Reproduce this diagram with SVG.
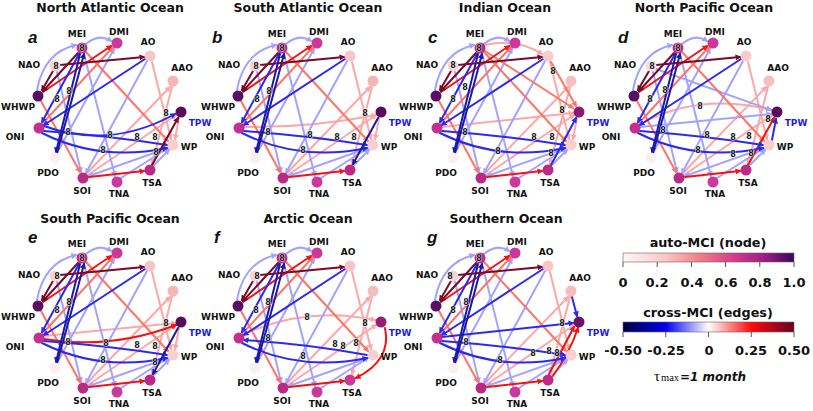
<svg xmlns="http://www.w3.org/2000/svg" width="813" height="411" viewBox="0 0 813 411">
<style>
.e{fill:none;stroke-width:2;stroke-linecap:round}
.ls{stroke:#ffa6a6;marker-end:url(#m-ls)}
.lb{stroke:#a3a3ff;marker-end:url(#m-lb)}
.sa{stroke:#ff7468;marker-end:url(#m-sa)}
.rd{stroke:#f01414;marker-end:url(#m-rd)}
.bl{stroke:#2a2af2;marker-end:url(#m-bl)}
.nv{stroke:#1a1aa8;marker-end:url(#m-nv)}
.mr{stroke:#7a0a2a;marker-end:url(#m-mr)}
.nl{font:bold 9px "DejaVu Sans",sans-serif;fill:#111;text-anchor:middle}
.tp{fill:#1a1aee}
.lg{font:bold 8px "DejaVu Sans",sans-serif;fill:#1a1a1a;text-anchor:middle;stroke:#fff;stroke-width:1;stroke-opacity:0.8;paint-order:stroke}
.tt{font:bold 12.5px "DejaVu Sans",sans-serif;fill:#111;text-anchor:middle}
.pl{font:italic bold 17px "Liberation Sans",sans-serif;fill:#111}
.cb{font:bold 12.8px "DejaVu Sans",sans-serif;fill:#111;text-anchor:middle}
.tk{font:bold 13px "DejaVu Sans",sans-serif;fill:#111;text-anchor:middle}
.tick{stroke:#555;stroke-width:1}
</style>
<defs>
<marker id="m-ls" viewBox="0 0 8 8" refX="6" refY="4" markerWidth="6" markerHeight="6" markerUnits="userSpaceOnUse" orient="auto"><path d="M0,0 L8,4 L0,8 z" fill="#ffa6a6"/></marker>
<marker id="m-lb" viewBox="0 0 8 8" refX="6" refY="4" markerWidth="6" markerHeight="6" markerUnits="userSpaceOnUse" orient="auto"><path d="M0,0 L8,4 L0,8 z" fill="#a3a3ff"/></marker>
<marker id="m-sa" viewBox="0 0 8 8" refX="6" refY="4" markerWidth="6" markerHeight="6" markerUnits="userSpaceOnUse" orient="auto"><path d="M0,0 L8,4 L0,8 z" fill="#ff7468"/></marker>
<marker id="m-rd" viewBox="0 0 8 8" refX="6" refY="4" markerWidth="6" markerHeight="6" markerUnits="userSpaceOnUse" orient="auto"><path d="M0,0 L8,4 L0,8 z" fill="#f01414"/></marker>
<marker id="m-bl" viewBox="0 0 8 8" refX="6" refY="4" markerWidth="6" markerHeight="6" markerUnits="userSpaceOnUse" orient="auto"><path d="M0,0 L8,4 L0,8 z" fill="#2a2af2"/></marker>
<marker id="m-nv" viewBox="0 0 8 8" refX="6" refY="4" markerWidth="6" markerHeight="6" markerUnits="userSpaceOnUse" orient="auto"><path d="M0,0 L8,4 L0,8 z" fill="#1a1aa8"/></marker>
<marker id="m-mr" viewBox="0 0 8 8" refX="6" refY="4" markerWidth="6" markerHeight="6" markerUnits="userSpaceOnUse" orient="auto"><path d="M0,0 L8,4 L0,8 z" fill="#7a0a2a"/></marker>
<linearGradient id="g-auto" x1="0" x2="1" y1="0" y2="0">
<stop offset="0" stop-color="#fff8f8"/><stop offset="0.25" stop-color="#f9c6c6"/><stop offset="0.45" stop-color="#f07e86"/><stop offset="0.65" stop-color="#d33c8c"/><stop offset="0.82" stop-color="#a01e86"/><stop offset="1" stop-color="#3a0858"/>
</linearGradient>
<linearGradient id="g-cross" x1="0" x2="1" y1="0" y2="0">
<stop offset="0" stop-color="#000040"/><stop offset="0.25" stop-color="#0000f0"/><stop offset="0.5" stop-color="#ffffff"/><stop offset="0.75" stop-color="#ff0a0a"/><stop offset="1" stop-color="#660022"/>
</linearGradient>
</defs>
<rect width="813" height="411" fill="#fff"/>

<!-- Panel a -->
<g id="panel-a">
<text class="tt" x="110" y="12">North Atlantic Ocean</text>
<text class="pl" x="28" y="43">a</text>
<g id="a-connectors">
<path class="e ls" d="M88,175 L176,115"/><path class="e ls" d="M87,173 L170,87"/><path class="e ls" d="M172,87 L152,164"/><path class="e ls" d="M179,118 L175,139"/><path class="e ls" d="M152,62 L171,139"/>
<path class="e lb" d="M86,44 Q99,33 111,41"/><path class="e lb" d="M37,90 Q44,52 76,45"/><path class="e lb" d="M147,61 L86,173"/><path class="e lb" d="M84,54 L115,176"/><path class="e lb" d="M57,153 L114,49"/><path class="e lb" d="M57,72 L81,172"/><path class="e lb" d="M121,178 L168,148"/><path class="e lb" d="M154,165 L169,150"/><path class="e lb" d="M168,148 L89,176"/>
<path class="e sa" d="M86,52 L168,141"/><path class="e sa" d="M41,101 L80,172"/><path class="e sa" d="M43,123 L113,47"/>
<path class="e rd" d="M43,92 L111,46"/><path class="e rd" d="M89,177 L144,171"/>
<path class="e bl" d="M145,59 L44,125"/><path class="e bl" d="M44,126 Q110,150 175,114"/><path class="e bl" d="M44,131 Q110,136 167,145"/><path class="e bl" d="M42,133 Q100,162 167,148"/><path class="e bl" d="M79,54 L42,122"/>
<path class="e nv" d="M80,54 L56,152"/><path class="e nv" d="M57,153 Q72,100 84,54"/>
<path class="e mr" d="M60,65 L144,57"/><path class="e mr" d="M78,53 L43,91"/><path class="e mr" d="M53,71 L42,90"/><path class="e mr" d="M152,165 L178,118"/>
</g>
<g id="a-MEI"><circle cx="82" cy="48" r="5.5" fill="#c12b8b"/><text class="nl" x="77" y="37">MEI</text></g>
<g id="a-DMI"><circle cx="117" cy="43" r="5.5" fill="#cb379b"/><text class="nl" x="119" y="35">DMI</text></g>
<g id="a-AO"><circle cx="150" cy="56" r="5.5" fill="#f8c6c6"/><text class="nl" x="148" y="45">AO</text></g>
<g id="a-AAO"><circle cx="173" cy="81" r="5.5" fill="#f6b6b6"/><text class="nl" x="182" y="71">AAO</text></g>
<g id="a-TPW"><circle cx="181" cy="112" r="5.5" fill="#5a0c5c"/><text class="nl tp" x="200" y="126">TPW</text></g>
<g id="a-WP"><circle cx="173" cy="145" r="5.5" fill="#f9cfcf"/><text class="nl" x="189" y="150">WP</text></g>
<g id="a-TSA"><circle cx="150" cy="170" r="5.5" fill="#bd2984"/><text class="nl" x="152" y="186">TSA</text></g>
<g id="a-TNA"><circle cx="117" cy="182" r="5.5" fill="#cd389d"/><text class="nl" x="119" y="197">TNA</text></g>
<g id="a-SOI"><circle cx="83" cy="178" r="5.5" fill="#b92a84"/><text class="nl" x="82" y="194">SOI</text></g>
<g id="a-PDO"><circle cx="55" cy="158" r="5.5" fill="#fcefef"/><text class="nl" x="48" y="176">PDO</text></g>
<g id="a-ONI"><circle cx="39" cy="128" r="5.5" fill="#c3308f"/><text class="nl" x="15" y="140">ONI</text></g>
<g id="a-WHWP"><circle cx="38" cy="96" r="5.5" fill="#581064"/><text class="nl" x="18" y="110">WHWP</text></g>
<g id="a-NAO"><circle cx="55" cy="66" r="5.5" fill="#f9d2d2"/><text class="nl" x="29" y="68">NAO</text></g>
<g class="lg"><text x="82" y="51">8</text><text x="56" y="69">8</text><text x="69" y="94">8</text><text x="57" y="102">8</text><text x="68" y="135">8</text><text x="110" y="138">8</text><text x="137" y="140">8</text><text x="155" y="140">8</text><text x="103" y="153">8</text><text x="156" y="155">8</text><text x="166" y="116">8</text></g>
</g>

<!-- Panel b -->
<g id="panel-b" transform="translate(200,0)">
<text class="tt" x="108" y="12">South Atlantic Ocean</text>
<text class="pl" x="12" y="43">b</text>
<g id="b-connectors">
<path class="e ls" d="M88,175 L176,115"/><path class="e ls" d="M87,173 L170,87"/><path class="e ls" d="M172,87 L152,164"/><path class="e ls" d="M179,118 L175,139"/><path class="e ls" d="M152,62 L171,139"/><path class="e ls" d="M44,127 Q110,128 176,115"/>
<path class="e lb" d="M86,44 Q99,33 111,41"/><path class="e lb" d="M37,90 Q44,52 76,45"/><path class="e lb" d="M147,61 L86,173"/><path class="e lb" d="M84,54 L115,176"/><path class="e lb" d="M57,153 L114,49"/><path class="e lb" d="M57,72 L81,172"/><path class="e lb" d="M121,178 L168,148"/><path class="e lb" d="M154,165 L169,150"/><path class="e lb" d="M168,148 L89,176"/>
<path class="e sa" d="M86,52 L168,141"/><path class="e sa" d="M41,101 L80,172"/><path class="e sa" d="M43,123 L113,47"/>
<path class="e rd" d="M43,92 L111,46"/><path class="e rd" d="M89,177 L144,171"/>
<path class="e bl" d="M145,59 L44,125"/><path class="e bl" d="M44,131 Q110,136 167,145"/><path class="e bl" d="M42,133 Q100,162 167,148"/><path class="e bl" d="M79,54 L42,122"/>
<path class="e nv" d="M80,54 L56,152"/><path class="e nv" d="M57,153 Q72,100 84,54"/><path class="e nv" d="M178,118 L153,164"/>
<path class="e mr" d="M60,65 L144,57"/><path class="e mr" d="M78,53 L43,91"/><path class="e mr" d="M53,71 L42,90"/>
</g>
<g id="b-MEI"><circle cx="82" cy="48" r="5.5" fill="#c12b8b"/><text class="nl" x="77" y="37">MEI</text></g>
<g id="b-DMI"><circle cx="117" cy="43" r="5.5" fill="#cb379b"/><text class="nl" x="119" y="35">DMI</text></g>
<g id="b-AO"><circle cx="150" cy="56" r="5.5" fill="#f8c6c6"/><text class="nl" x="148" y="45">AO</text></g>
<g id="b-AAO"><circle cx="173" cy="81" r="5.5" fill="#f6b6b6"/><text class="nl" x="182" y="71">AAO</text></g>
<g id="b-TPW"><circle cx="181" cy="112" r="5.5" fill="#5a0c5c"/><text class="nl tp" x="200" y="126">TPW</text></g>
<g id="b-WP"><circle cx="173" cy="145" r="5.5" fill="#f9cfcf"/><text class="nl" x="189" y="150">WP</text></g>
<g id="b-TSA"><circle cx="150" cy="170" r="5.5" fill="#bd2984"/><text class="nl" x="152" y="186">TSA</text></g>
<g id="b-TNA"><circle cx="117" cy="182" r="5.5" fill="#cd389d"/><text class="nl" x="119" y="197">TNA</text></g>
<g id="b-SOI"><circle cx="83" cy="178" r="5.5" fill="#b92a84"/><text class="nl" x="82" y="194">SOI</text></g>
<g id="b-PDO"><circle cx="55" cy="158" r="5.5" fill="#fcefef"/><text class="nl" x="48" y="176">PDO</text></g>
<g id="b-ONI"><circle cx="39" cy="128" r="5.5" fill="#c3308f"/><text class="nl" x="15" y="140">ONI</text></g>
<g id="b-WHWP"><circle cx="38" cy="96" r="5.5" fill="#581064"/><text class="nl" x="18" y="110">WHWP</text></g>
<g id="b-NAO"><circle cx="55" cy="66" r="5.5" fill="#f9d2d2"/><text class="nl" x="29" y="68">NAO</text></g>
<g class="lg"><text x="82" y="51">8</text><text x="56" y="69">8</text><text x="69" y="94">8</text><text x="57" y="102">8</text><text x="68" y="135">8</text><text x="110" y="138">8</text><text x="137" y="140">8</text><text x="154" y="140">8</text><text x="103" y="153">8</text><text x="165" y="116">8</text></g>
</g>

<!-- Panel c -->
<g id="panel-c" transform="translate(398,0)">
<text class="tt" x="107" y="12">Indian Ocean</text>
<text class="pl" x="30" y="43">c</text>
<g id="c-connectors">
<path class="e ls" d="M88,175 L176,115"/><path class="e ls" d="M87,173 L170,87"/><path class="e ls" d="M172,87 L152,164"/><path class="e ls" d="M179,118 L175,139"/><path class="e ls" d="M152,62 L171,139"/><path class="e ls" d="M44,127 L175,113"/><path class="e ls" d="M87,45 Q120,38 144,54"/>
<path class="e lb" d="M86,44 Q99,33 111,41"/><path class="e lb" d="M37,90 Q44,52 76,45"/><path class="e lb" d="M147,61 L86,173"/><path class="e lb" d="M84,54 L115,176"/><path class="e lb" d="M57,153 L114,49"/><path class="e lb" d="M57,72 L81,172"/><path class="e lb" d="M121,178 L168,148"/><path class="e lb" d="M154,165 L169,150"/><path class="e lb" d="M168,148 L89,176"/>
<path class="e sa" d="M86,52 L168,141"/><path class="e sa" d="M41,101 L80,172"/><path class="e sa" d="M43,123 L113,47"/><path class="e sa" d="M153,62 L178,106"/><path class="e sa" d="M87,51 L175,108"/>
<path class="e rd" d="M43,92 L111,46"/><path class="e rd" d="M89,177 L144,171"/>
<path class="e bl" d="M145,59 L44,125"/><path class="e bl" d="M44,131 Q110,136 167,145"/><path class="e bl" d="M42,133 Q100,162 167,148"/><path class="e bl" d="M79,54 L42,122"/><path class="e bl" d="M153,165 L178,118"/>
<path class="e nv" d="M80,54 L56,152"/><path class="e nv" d="M57,153 Q72,100 84,54"/>
<path class="e mr" d="M60,65 L144,57"/><path class="e mr" d="M78,53 L43,91"/><path class="e mr" d="M53,71 L42,90"/>
</g>
<g id="c-MEI"><circle cx="82" cy="48" r="5.5" fill="#b82888"/><text class="nl" x="77" y="37">MEI</text></g>
<g id="c-DMI"><circle cx="117" cy="43" r="5.5" fill="#cb379b"/><text class="nl" x="119" y="35">DMI</text></g>
<g id="c-AO"><circle cx="150" cy="56" r="5.5" fill="#f8cccc"/><text class="nl" x="148" y="45">AO</text></g>
<g id="c-AAO"><circle cx="173" cy="81" r="5.5" fill="#f7c0c0"/><text class="nl" x="182" y="71">AAO</text></g>
<g id="c-TPW"><circle cx="181" cy="112" r="5.5" fill="#8a1a72"/><text class="nl tp" x="200" y="126">TPW</text></g>
<g id="c-WP"><circle cx="173" cy="145" r="5.5" fill="#f9cfcf"/><text class="nl" x="189" y="150">WP</text></g>
<g id="c-TSA"><circle cx="150" cy="170" r="5.5" fill="#bd2984"/><text class="nl" x="152" y="186">TSA</text></g>
<g id="c-TNA"><circle cx="117" cy="182" r="5.5" fill="#cd389d"/><text class="nl" x="119" y="197">TNA</text></g>
<g id="c-SOI"><circle cx="83" cy="178" r="5.5" fill="#b92a84"/><text class="nl" x="82" y="194">SOI</text></g>
<g id="c-PDO"><circle cx="55" cy="158" r="5.5" fill="#fcefef"/><text class="nl" x="48" y="176">PDO</text></g>
<g id="c-ONI"><circle cx="39" cy="128" r="5.5" fill="#c3308f"/><text class="nl" x="15" y="140">ONI</text></g>
<g id="c-WHWP"><circle cx="38" cy="96" r="5.5" fill="#581064"/><text class="nl" x="18" y="110">WHWP</text></g>
<g id="c-NAO"><circle cx="55" cy="66" r="5.5" fill="#f9d2d2"/><text class="nl" x="29" y="68">NAO</text></g>
<g class="lg"><text x="81" y="51">8</text><text x="55" y="68">8</text><text x="67" y="90">8</text><text x="55" y="102">8</text><text x="67" y="135">8</text><text x="136" y="140">8</text><text x="154" y="140">8</text><text x="100" y="154">8</text><text x="153" y="156">8</text><text x="155" y="74">8</text><text x="164" y="113">8</text></g>
</g>

<!-- Panel d -->
<g id="panel-d" transform="translate(596,0)">
<text class="tt" x="108" y="12">North Pacific Ocean</text>
<text class="pl" x="22" y="43">d</text>
<g id="d-connectors">
<path class="e ls" d="M88,175 L176,115"/><path class="e ls" d="M87,173 L170,87"/><path class="e ls" d="M172,87 L152,164"/><path class="e ls" d="M152,62 L171,139"/><path class="e ls" d="M44,124 Q104,92 175,110"/>
<path class="e lb" d="M86,44 Q99,33 111,41"/><path class="e lb" d="M37,90 Q44,52 76,45"/><path class="e lb" d="M147,61 L86,173"/><path class="e lb" d="M84,54 L115,176"/><path class="e lb" d="M57,153 L114,49"/><path class="e lb" d="M57,72 L81,172"/><path class="e lb" d="M121,178 L168,148"/><path class="e lb" d="M154,165 L169,150"/><path class="e lb" d="M168,148 L89,176"/><path class="e lb" d="M60,69 L175,110"/><path class="e lb" d="M44,127 L175,114"/>
<path class="e sa" d="M86,52 L168,141"/><path class="e sa" d="M41,101 L80,172"/><path class="e sa" d="M43,123 L113,47"/>
<path class="e rd" d="M43,92 L111,46"/><path class="e rd" d="M89,177 L144,171"/><path class="e rd" d="M152,165 L178,118"/>
<path class="e bl" d="M145,59 L44,125"/><path class="e bl" d="M44,131 Q110,136 167,145"/><path class="e bl" d="M42,133 Q100,162 167,148"/><path class="e bl" d="M79,54 L42,122"/><path class="e bl" d="M176,140 L180,119"/>
<path class="e nv" d="M80,54 L56,152"/><path class="e nv" d="M57,153 Q72,100 84,54"/>
<path class="e mr" d="M60,65 L144,57"/><path class="e mr" d="M78,53 L43,91"/><path class="e mr" d="M53,71 L42,90"/>
</g>
<g id="d-MEI"><circle cx="82" cy="48" r="5.5" fill="#c12b8b"/><text class="nl" x="77" y="37">MEI</text></g>
<g id="d-DMI"><circle cx="117" cy="43" r="5.5" fill="#cb379b"/><text class="nl" x="119" y="35">DMI</text></g>
<g id="d-AO"><circle cx="150" cy="56" r="5.5" fill="#f8cccc"/><text class="nl" x="148" y="45">AO</text></g>
<g id="d-AAO"><circle cx="173" cy="81" r="5.5" fill="#f7c0c0"/><text class="nl" x="182" y="71">AAO</text></g>
<g id="d-TPW"><circle cx="181" cy="112" r="5.5" fill="#5a0c5c"/><text class="nl tp" x="200" y="126">TPW</text></g>
<g id="d-WP"><circle cx="173" cy="145" r="5.5" fill="#f9cfcf"/><text class="nl" x="189" y="150">WP</text></g>
<g id="d-TSA"><circle cx="150" cy="170" r="5.5" fill="#bd2984"/><text class="nl" x="152" y="186">TSA</text></g>
<g id="d-TNA"><circle cx="117" cy="182" r="5.5" fill="#cd389d"/><text class="nl" x="119" y="197">TNA</text></g>
<g id="d-SOI"><circle cx="83" cy="178" r="5.5" fill="#b92a84"/><text class="nl" x="82" y="194">SOI</text></g>
<g id="d-PDO"><circle cx="55" cy="158" r="5.5" fill="#fcefef"/><text class="nl" x="48" y="176">PDO</text></g>
<g id="d-ONI"><circle cx="39" cy="128" r="5.5" fill="#c3308f"/><text class="nl" x="15" y="140">ONI</text></g>
<g id="d-WHWP"><circle cx="38" cy="96" r="5.5" fill="#581064"/><text class="nl" x="18" y="110">WHWP</text></g>
<g id="d-NAO"><circle cx="55" cy="66" r="5.5" fill="#fadada"/><text class="nl" x="29" y="68">NAO</text></g>
<g class="lg"><text x="82" y="51">8</text><text x="56" y="69">8</text><text x="69" y="93">8</text><text x="54" y="102">8</text><text x="67" y="133">8</text><text x="104" y="109">8</text><text x="111" y="138">8</text><text x="137" y="140">8</text><text x="153" y="139">8</text><text x="102" y="153">8</text><text x="137" y="157">8</text><text x="155" y="156">8</text><text x="172" y="122">8</text></g>
</g>

<!-- Panel e -->
<g id="panel-e" transform="translate(0,210)">
<text class="tt" x="110" y="13">South Pacific Ocean</text>
<text class="pl" x="28" y="33">e</text>
<g id="e-connectors">
<path class="e ls" d="M88,175 L176,115"/><path class="e ls" d="M87,173 L170,87"/><path class="e ls" d="M172,87 L152,164"/><path class="e ls" d="M179,118 L175,139"/><path class="e ls" d="M152,62 L171,139"/><path class="e ls" d="M44,126 L176,113"/>
<path class="e lb" d="M86,44 Q99,33 111,41"/><path class="e lb" d="M37,90 Q44,52 76,45"/><path class="e lb" d="M147,61 L86,173"/><path class="e lb" d="M84,54 L115,176"/><path class="e lb" d="M57,153 L114,49"/><path class="e lb" d="M57,72 L81,172"/><path class="e lb" d="M121,178 L168,148"/><path class="e lb" d="M154,165 L169,150"/><path class="e lb" d="M168,148 L89,176"/>
<path class="e sa" d="M86,52 L168,141"/><path class="e sa" d="M41,101 L80,172"/><path class="e sa" d="M43,123 L113,47"/>
<path class="e rd" d="M43,92 L111,46"/><path class="e rd" d="M89,177 L144,171"/><path class="e rd" d="M44,129 Q110,140 176,115"/>
<path class="e bl" d="M145,59 L44,125"/><path class="e bl" d="M44,131 Q110,136 167,145"/><path class="e bl" d="M42,133 Q100,162 167,148"/><path class="e bl" d="M79,54 L42,122"/>
<path class="e nv" d="M80,54 L56,152"/><path class="e nv" d="M57,153 Q72,100 84,54"/><path class="e nv" d="M178,118 L153,164"/>
<path class="e mr" d="M60,65 L144,57"/><path class="e mr" d="M78,53 L43,91"/><path class="e mr" d="M53,71 L42,90"/>
</g>
<g id="e-MEI"><circle cx="82" cy="48" r="5.5" fill="#c12b8b"/><text class="nl" x="77" y="37">MEI</text></g>
<g id="e-DMI"><circle cx="117" cy="43" r="5.5" fill="#cb379b"/><text class="nl" x="119" y="35">DMI</text></g>
<g id="e-AO"><circle cx="150" cy="56" r="5.5" fill="#f8c6c6"/><text class="nl" x="148" y="45">AO</text></g>
<g id="e-AAO"><circle cx="173" cy="81" r="5.5" fill="#f6b6b6"/><text class="nl" x="182" y="71">AAO</text></g>
<g id="e-TPW"><circle cx="181" cy="112" r="5.5" fill="#5a0c5c"/><text class="nl tp" x="200" y="126">TPW</text></g>
<g id="e-WP"><circle cx="173" cy="145" r="5.5" fill="#f9cfcf"/><text class="nl" x="189" y="150">WP</text></g>
<g id="e-TSA"><circle cx="150" cy="170" r="5.5" fill="#bd2984"/><text class="nl" x="152" y="186">TSA</text></g>
<g id="e-TNA"><circle cx="117" cy="182" r="5.5" fill="#cd389d"/><text class="nl" x="119" y="197">TNA</text></g>
<g id="e-SOI"><circle cx="83" cy="178" r="5.5" fill="#b92a84"/><text class="nl" x="82" y="194">SOI</text></g>
<g id="e-PDO"><circle cx="55" cy="158" r="5.5" fill="#fcefef"/><text class="nl" x="48" y="176">PDO</text></g>
<g id="e-ONI"><circle cx="39" cy="128" r="5.5" fill="#c3308f"/><text class="nl" x="15" y="140">ONI</text></g>
<g id="e-WHWP"><circle cx="38" cy="96" r="5.5" fill="#581064"/><text class="nl" x="18" y="110">WHWP</text></g>
<g id="e-NAO"><circle cx="55" cy="66" r="5.5" fill="#f9d2d2"/><text class="nl" x="29" y="68">NAO</text></g>
<g class="lg"><text x="82" y="51">8</text><text x="57" y="69">8</text><text x="69" y="95">8</text><text x="57" y="103">8</text><text x="68" y="135">8</text><text x="106" y="136">8</text><text x="137" y="138">8</text><text x="155" y="139">8</text><text x="103" y="153">8</text><text x="155" y="155">8</text><text x="166" y="116">8</text></g>
</g>

<!-- Panel f -->
<g id="panel-f" transform="translate(200,210)">
<text class="tt" x="108" y="13">Arctic Ocean</text>
<text class="pl" x="14" y="33">f</text>
<g id="f-connectors">
<path class="e ls" d="M88,175 L176,115"/><path class="e ls" d="M87,173 L170,87"/><path class="e ls" d="M172,87 L152,164"/><path class="e ls" d="M152,62 L171,139"/><path class="e ls" d="M44,124 Q107,96 175,110"/>
<path class="e lb" d="M86,44 Q99,33 111,41"/><path class="e lb" d="M37,90 Q44,52 76,45"/><path class="e lb" d="M147,61 L86,173"/><path class="e lb" d="M84,54 L115,176"/><path class="e lb" d="M57,153 L114,49"/><path class="e lb" d="M57,72 L81,172"/><path class="e lb" d="M121,178 L168,148"/><path class="e lb" d="M168,148 L89,176"/>
<path class="e sa" d="M86,52 L168,141"/><path class="e sa" d="M41,101 L80,172"/><path class="e sa" d="M43,123 L113,47"/>
<path class="e rd" d="M43,92 L111,46"/><path class="e rd" d="M89,177 L144,171"/><path class="e rd" d="M185,118 Q192,150 156,168"/>
<path class="e bl" d="M145,59 L44,125"/><path class="e bl" d="M167,145 Q110,134 44,130"/><path class="e bl" d="M42,133 Q100,162 167,148"/><path class="e bl" d="M79,54 L42,122"/>
<path class="e nv" d="M80,54 L56,152"/><path class="e nv" d="M57,153 Q72,100 84,54"/>
<path class="e mr" d="M60,65 L144,57"/><path class="e mr" d="M78,53 L43,91"/><path class="e mr" d="M53,71 L42,90"/>
</g>
<g id="f-MEI"><circle cx="82" cy="48" r="5.5" fill="#c12b8b"/><text class="nl" x="77" y="37">MEI</text></g>
<g id="f-DMI"><circle cx="117" cy="43" r="5.5" fill="#cb379b"/><text class="nl" x="119" y="35">DMI</text></g>
<g id="f-AO"><circle cx="150" cy="56" r="5.5" fill="#f8c6c6"/><text class="nl" x="148" y="45">AO</text></g>
<g id="f-AAO"><circle cx="173" cy="81" r="5.5" fill="#f6bcbc"/><text class="nl" x="182" y="71">AAO</text></g>
<g id="f-TPW"><circle cx="181" cy="112" r="5.5" fill="#9c1c70"/><text class="nl tp" x="200" y="126">TPW</text></g>
<g id="f-WP"><circle cx="173" cy="145" r="5.5" fill="#f9cfcf"/><text class="nl" x="189" y="150">WP</text></g>
<g id="f-TSA"><circle cx="150" cy="170" r="5.5" fill="#c83a96"/><text class="nl" x="152" y="186">TSA</text></g>
<g id="f-TNA"><circle cx="117" cy="182" r="5.5" fill="#cd389d"/><text class="nl" x="119" y="197">TNA</text></g>
<g id="f-SOI"><circle cx="83" cy="178" r="5.5" fill="#b92a84"/><text class="nl" x="82" y="194">SOI</text></g>
<g id="f-PDO"><circle cx="55" cy="158" r="5.5" fill="#fcefef"/><text class="nl" x="48" y="176">PDO</text></g>
<g id="f-ONI"><circle cx="39" cy="128" r="5.5" fill="#c3308f"/><text class="nl" x="15" y="140">ONI</text></g>
<g id="f-WHWP"><circle cx="38" cy="96" r="5.5" fill="#581064"/><text class="nl" x="18" y="110">WHWP</text></g>
<g id="f-NAO"><circle cx="55" cy="66" r="5.5" fill="#f9d2d2"/><text class="nl" x="29" y="68">NAO</text></g>
<g class="lg"><text x="82" y="51">8</text><text x="57" y="69">8</text><text x="68" y="95">8</text><text x="56" y="103">8</text><text x="68" y="131">8</text><text x="107" y="110">8</text><text x="135" y="137">8</text><text x="143" y="139">8</text><text x="156" y="136">8</text><text x="103" y="149">8</text><text x="165" y="116">8</text></g>
</g>

<!-- Panel g -->
<g id="panel-g" transform="translate(398,210)">
<text class="tt" x="108" y="13">Southern Ocean</text>
<text class="pl" x="29" y="33">g</text>
<g id="g-connectors">
<path class="e ls" d="M88,175 L176,115"/><path class="e ls" d="M87,173 L170,87"/><path class="e ls" d="M172,87 L152,164"/><path class="e ls" d="M152,62 L171,139"/>
<path class="e lb" d="M86,44 Q99,33 111,41"/><path class="e lb" d="M37,90 Q44,52 76,45"/><path class="e lb" d="M147,61 L86,173"/><path class="e lb" d="M84,54 L115,176"/><path class="e lb" d="M57,153 L114,49"/><path class="e lb" d="M57,72 L81,172"/><path class="e lb" d="M121,178 L168,148"/><path class="e lb" d="M154,165 L169,150"/><path class="e lb" d="M168,148 L89,176"/>
<path class="e sa" d="M86,52 L168,141"/><path class="e sa" d="M41,101 L80,172"/><path class="e sa" d="M43,123 L113,47"/>
<path class="e rd" d="M43,92 L111,46"/><path class="e rd" d="M89,177 L144,171"/><path class="e rd" d="M151,164 L176,117"/><path class="e rd" d="M155,166 Q172,142 180,118"/>
<path class="e bl" d="M145,59 L44,125"/><path class="e bl" d="M44,127 L175,113"/><path class="e bl" d="M44,131 Q110,136 167,145"/><path class="e bl" d="M42,133 Q100,162 167,148"/><path class="e bl" d="M79,54 L42,122"/><path class="e bl" d="M174,87 L179,106"/>
<path class="e nv" d="M80,54 L56,152"/><path class="e nv" d="M57,153 Q72,100 84,54"/>
<path class="e mr" d="M60,65 L144,57"/><path class="e mr" d="M78,53 L43,91"/><path class="e mr" d="M53,71 L42,90"/>
</g>
<g id="g-MEI"><circle cx="82" cy="48" r="5.5" fill="#c12b8b"/><text class="nl" x="77" y="37">MEI</text></g>
<g id="g-DMI"><circle cx="117" cy="43" r="5.5" fill="#cb379b"/><text class="nl" x="119" y="35">DMI</text></g>
<g id="g-AO"><circle cx="150" cy="56" r="5.5" fill="#f8c6c6"/><text class="nl" x="148" y="45">AO</text></g>
<g id="g-AAO"><circle cx="173" cy="81" r="5.5" fill="#f6bcbc"/><text class="nl" x="182" y="71">AAO</text></g>
<g id="g-TPW"><circle cx="181" cy="112" r="5.5" fill="#6a1466"/><text class="nl tp" x="200" y="126">TPW</text></g>
<g id="g-WP"><circle cx="173" cy="145" r="5.5" fill="#f9cfcf"/><text class="nl" x="189" y="150">WP</text></g>
<g id="g-TSA"><circle cx="150" cy="170" r="5.5" fill="#bd2984"/><text class="nl" x="152" y="186">TSA</text></g>
<g id="g-TNA"><circle cx="117" cy="182" r="5.5" fill="#cd389d"/><text class="nl" x="119" y="197">TNA</text></g>
<g id="g-SOI"><circle cx="83" cy="178" r="5.5" fill="#b92a84"/><text class="nl" x="82" y="194">SOI</text></g>
<g id="g-PDO"><circle cx="55" cy="158" r="5.5" fill="#fcefef"/><text class="nl" x="48" y="176">PDO</text></g>
<g id="g-ONI"><circle cx="39" cy="128" r="5.5" fill="#c3308f"/><text class="nl" x="15" y="140">ONI</text></g>
<g id="g-WHWP"><circle cx="38" cy="96" r="5.5" fill="#581064"/><text class="nl" x="18" y="110">WHWP</text></g>
<g id="g-NAO"><circle cx="55" cy="66" r="5.5" fill="#f9d2d2"/><text class="nl" x="29" y="68">NAO</text></g>
<g class="lg"><text x="81" y="51">8</text><text x="52" y="69">8</text><text x="68" y="95">8</text><text x="55" y="103">8</text><text x="68" y="135">8</text><text x="102" y="153">8</text><text x="135" y="146">8</text><text x="151" y="144">8</text><text x="159" y="146">8</text><text x="164" y="116">8</text></g>
</g>

<!-- Colour bars -->
<g id="legend">
<text class="cb" x="708" y="247">auto-MCI (node)</text>
<rect x="623" y="253" width="171" height="9" fill="url(#g-auto)" stroke="#666" stroke-width="0.6"/>
<g class="tick"><line x1="623" y1="262" x2="623" y2="267"/><line x1="657.2" y1="262" x2="657.2" y2="267"/><line x1="691.4" y1="262" x2="691.4" y2="267"/><line x1="725.6" y1="262" x2="725.6" y2="267"/><line x1="759.8" y1="262" x2="759.8" y2="267"/><line x1="794" y1="262" x2="794" y2="267"/></g>
<text class="tk" x="623" y="287">0</text><text class="tk" x="657" y="287">0.2</text><text class="tk" x="692" y="287">0.4</text><text class="tk" x="726" y="287">0.6</text><text class="tk" x="760" y="287">0.8</text><text class="tk" x="794" y="287">1.0</text>
<text class="cb" x="708" y="317">cross-MCI (edges)</text>
<rect x="623" y="322" width="171" height="10" fill="url(#g-cross)" stroke="#666" stroke-width="0.6"/>
<g class="tick"><line x1="623" y1="332" x2="623" y2="337"/><line x1="665.75" y1="332" x2="665.75" y2="337"/><line x1="708.5" y1="332" x2="708.5" y2="337"/><line x1="751.25" y1="332" x2="751.25" y2="337"/><line x1="794" y1="332" x2="794" y2="337"/></g>
<text class="tk" x="623" y="355">-0.50</text><text class="tk" x="666" y="355">-0.25</text><text class="tk" x="709" y="355">0</text><text class="tk" x="751" y="355">0.25</text><text class="tk" x="794" y="355">0.50</text>
<text x="654" y="381" font-family="Liberation Serif, serif" font-size="15" fill="#111">τ</text>
<text x="661" y="381" font-family="Liberation Serif, serif" font-size="10.5" fill="#111">max</text>
<text x="680" y="381" font-family="DejaVu Sans, sans-serif" font-size="12" font-weight="bold" font-style="italic" fill="#111">=1 month</text>
</g>
</svg>
